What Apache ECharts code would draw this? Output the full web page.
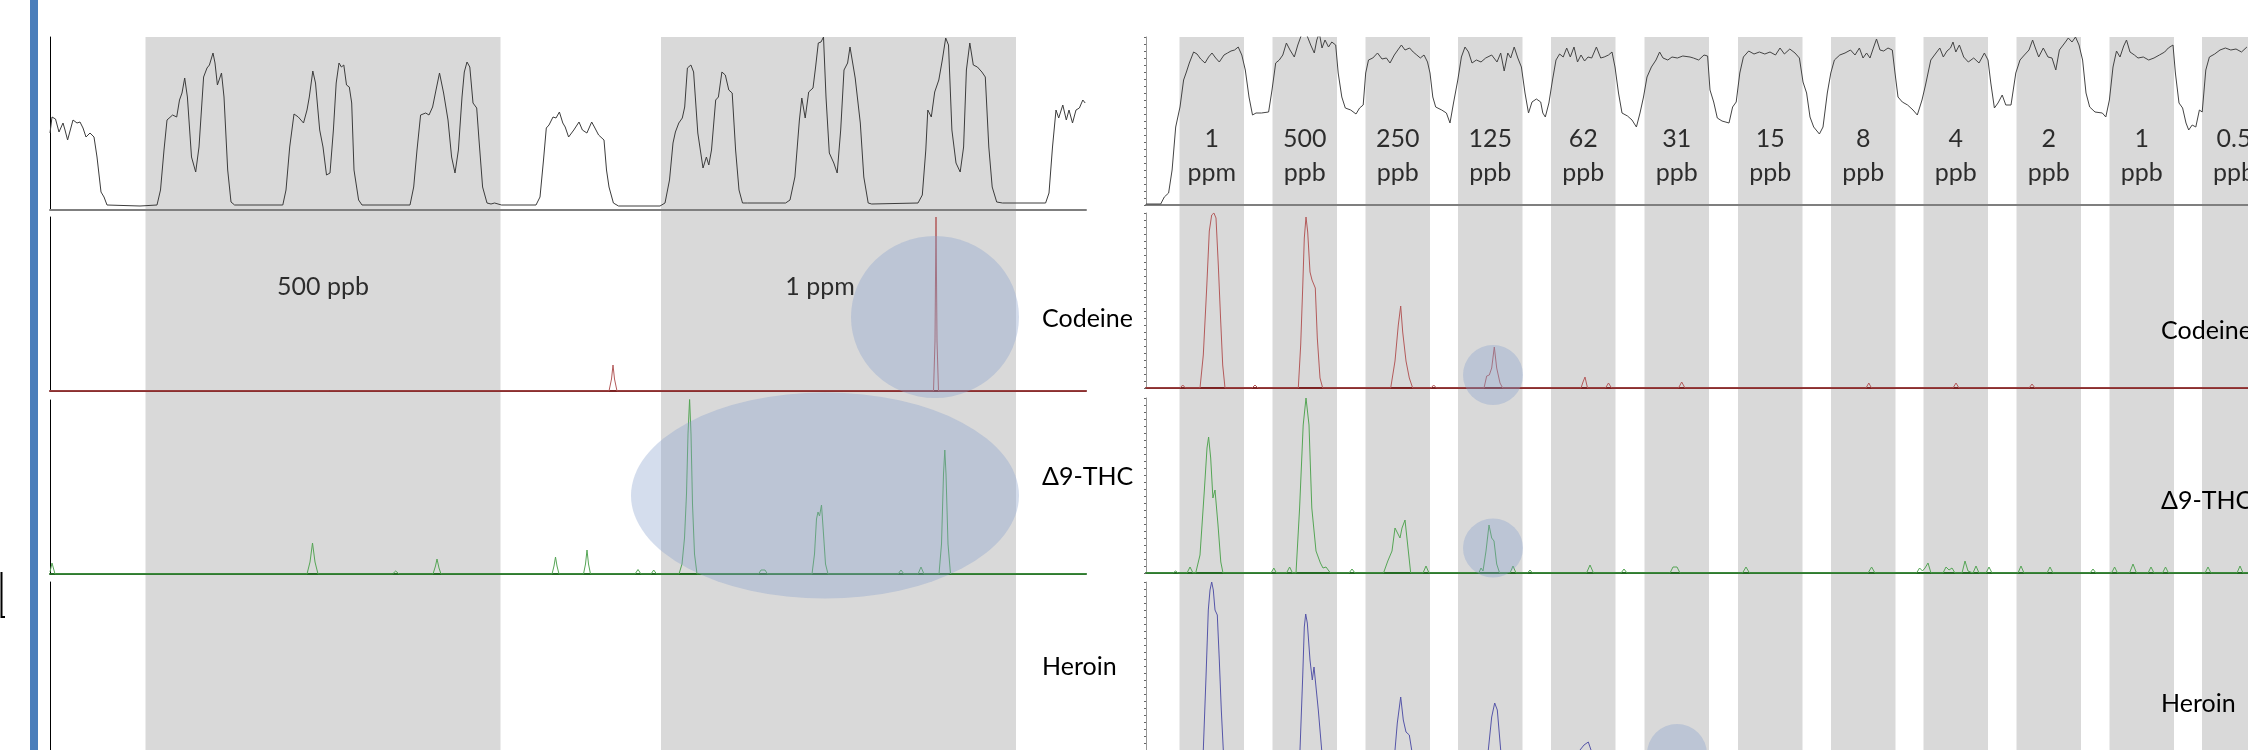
<!DOCTYPE html>
<html>
<head>
<meta charset="utf-8">
<script src="https://cdn.jsdelivr.net/npm/echarts@6/dist/echarts.min.js"></script>
<style>
html,body{margin:0;padding:0;background:#fff;overflow:hidden;}
#wrap{width:2248px;height:750px;overflow:hidden;position:relative;}
#chart{width:2248px;height:790px;}
</style>
</head>
<body>
<div id="wrap"><div id="chart"></div></div>
<script>
// ---------- DATA (x = scan index, y = intensity) ----------
const leftBands = [[145.5,500.5],[661,1016]];
const rightBands = [[1179.5,1244],[1272.5,1337],[1365.5,1430],[1458,1522.5],[1551,1615.5],[1644.5,1709],[1738,1802.5],[1831,1895.5],[1923.5,1988],[2016.5,2081],[2109.5,2174],[2202,2266]];
const leftBandLabels = ['500 ppb','1 ppm'];
const rightBandLabels = ['1\nppm','500\nppb','250\nppb','125\nppb','62\nppb','31\nppb','15\nppb','8\nppb','4\nppb','2\nppb','1\nppb','0.5\nppb'];
const compounds = ['Codeine','Δ9-THC','Heroin'];

const leftTic = [[50,77],[52,93],[55.5,91],[59,78],[63,87],[65,80],[67.6,70],[73,90],[77,87],[80,88],[83,82],[86,73],[90,77],[94,73],[97,53],[101,18],[104,13],[107,5],[140,4],[157,5],[160.5,20],[164,60],[167,90],[172.6,95],[176.7,93],[179.5,110],[182,117],[184.7,132],[187.4,113],[191.5,53],[195.7,38],[199,63],[203.6,133],[207,142],[209.4,145],[213,157],[215,147],[217.4,125],[219,127],[221.5,137],[224,113],[227.7,40],[231,8],[234.6,5],[282.8,5],[286,20],[289.7,63],[294,96],[298.3,93],[303.5,87],[307,100],[309.3,113],[312.8,139],[315.5,127],[319.7,80],[323,63],[326.5,35],[330,37],[333.4,80],[336.2,127],[339,147],[341.4,143],[343.8,145],[346.5,125],[349.3,123],[351.7,107],[354,40],[358.6,10],[362,5],[410,5],[413.7,23],[417,60],[420.6,95],[425.7,97],[429,95],[432.6,103],[436,120],[439.5,137],[443.6,117],[448,90],[451.6,53],[455,37],[458.4,60],[462,113],[464.3,138],[467,148],[469.8,143],[473,107],[476.7,102],[479,70],[482.6,23],[487,7],[491,6],[494.6,7],[501.5,5],[536,5],[540,13],[543.5,50],[546.3,82],[549,85],[553,93],[556,92],[559.4,98],[562.8,87],[565.2,83],[568.6,73],[573.8,80],[579,88],[582.4,80],[586.9,77],[591.7,88],[594.4,83],[598.6,75],[604,70],[606.5,40],[609,23],[613.4,7],[618.5,4],[660,4],[665,7],[669.5,30],[673,67],[675.4,78],[678.8,87],[682.3,92],[684.7,103],[687.4,142],[690.9,145],[693.6,138],[697.8,77],[703,42],[706.4,53],[708.8,45],[711.5,60],[715.7,110],[718.4,113],[721.9,138],[725.3,135],[728.8,120],[732.2,117],[735.6,60],[739,20],[742.5,7],[747.7,7],[785.6,7],[790,10],[794.9,33],[799.4,90],[801.8,112],[805.2,92],[808.7,118],[813,122],[815.6,143],[818.3,167],[821,168],[823.5,173],[826,113],[829.3,57],[833.8,47],[837.2,37],[840.7,80],[844,140],[847.6,147],[850,163],[852.7,147],[855.2,132],[856.9,133],[860.3,87],[863.8,33],[868.2,7],[871.7,6],[918,7],[922.3,15],[925.8,60],[927.8,100],[931.3,93],[934.7,118],[938.8,130],[942.3,150],[945.7,172],[948.5,165],[951.9,80],[956,47],[960.2,38],[963.6,63],[966.4,140],[969.8,167],[973.3,145],[977.4,143],[981.9,138],[985.3,133],[988.8,63],[992.2,23],[996.7,8],[1002.5,7],[1045.6,7],[1049,17],[1052.5,63],[1056,100],[1058.7,92],[1062.8,105],[1066.3,90],[1069,100],[1072.5,87],[1076,100],[1079.4,102],[1082.8,110],[1085.2,107]];

const leftCodeine = [[50,0],[609,0],[611.5,12],[613,26],[614.5,12],[617,0],[933.5,0],[935,50],[936,174],[937,50],[938.5,0],[1086,0]];

const leftThc = [[50,2],[52,11],[55,0],[307,0],[310,12],[312.5,31],[315,12],[318,0],[392.5,0],[395.7,3],[399,0],[433,0],[435.5,8],[437,15],[439,6],[441,0],[552,0],[554,8],[555.5,17],[557,8],[559,0],[583.5,0],[585.5,10],[587,24],[588.5,10],[590.5,0],[635,0],[638,4.5],[641,0],[651,0],[653.7,4],[656.5,0],[679,0],[682,10],[684.5,36],[686.5,80],[688,140],[689.6,175],[691,140],[692.5,70],[694.5,20],[697,0],[758.5,0],[761,4],[763,2.5],[765,4],[767.5,0],[812,0],[814.5,20],[816.5,55],[818,62],[819.5,58],[821.5,69],[823.5,40],[825.5,10],[828,0],[898,0],[901,4],[904,0],[918,0],[921,7],[924,0],[939,0],[941.5,30],[943.5,100],[944.8,124],[946,100],[948,30],[950.5,0],[1086,0]];

const leftHeroin = [[50,0],[1086,0]];

const rightTic = [[1146,1],[1160.7,1],[1164.3,8],[1168.6,12],[1172.1,35],[1175.7,78],[1180,98],[1183.6,125],[1186.4,133],[1189.3,142],[1193.6,153],[1197,151],[1200.7,146],[1205,142],[1208.6,148],[1212,152],[1215.7,147],[1219.3,143],[1224,150],[1227.5,152],[1231,154],[1234.6,155],[1238.2,158],[1241.8,150],[1245.3,135],[1249,108],[1252.5,90],[1256,92],[1261.4,92],[1268.6,93],[1272,115],[1275.7,142],[1279.3,145],[1282.8,150],[1286.4,162],[1290,155],[1294.3,148],[1297.8,160],[1301.4,170],[1306,172],[1310.7,160],[1314.3,152],[1316.8,165],[1319.3,172],[1322,157],[1325,165],[1328.5,158],[1331.8,163],[1335.7,160],[1338.2,132],[1341.8,108],[1345.3,97],[1350.7,95],[1356,91],[1359.6,97],[1363.2,100],[1365.7,132],[1368.5,145],[1372.8,147],[1377.5,152],[1382,146],[1386.4,147],[1390,142],[1394.3,150],[1397.8,155],[1401.4,160],[1405,155],[1409.6,157],[1413.2,153],[1416.8,150],[1420.3,147],[1424,150],[1427.5,143],[1430,132],[1432.8,108],[1435.7,98],[1441.7,95],[1446.4,92],[1450,82],[1453.5,102],[1457.8,125],[1461.4,148],[1465,158],[1468.5,153],[1472,142],[1476.4,145],[1481,143],[1485.7,147],[1491.7,150],[1497,143],[1500.7,152],[1504.2,134],[1507.8,152],[1510.7,147],[1514.2,158],[1517.8,147],[1521.4,138],[1525,112],[1528.5,92],[1532,103],[1536.4,106],[1540.7,103],[1542.8,92],[1545.3,88],[1548.9,102],[1552.5,125],[1556,145],[1559.6,151],[1563.2,148],[1566.7,157],[1570.3,148],[1574,158],[1577.5,143],[1581,150],[1584.6,144],[1588,148],[1591.7,147],[1596.4,158],[1600.7,147],[1604.2,148],[1608.5,150],[1612,153],[1615,138],[1618.5,112],[1622,92],[1627.5,89],[1632,85],[1636.4,78],[1640,92],[1643.5,108],[1647,128],[1651.4,138],[1656,145],[1659.6,153],[1663,147],[1667.8,145],[1672,148],[1677.4,147],[1682.8,149],[1690,148],[1693.4,147],[1698.7,145],[1704,150],[1707.6,149],[1710,115],[1713.7,103],[1717.3,87],[1722,84],[1729,82],[1732.6,98],[1736.2,103],[1739.8,132],[1743.4,148],[1748.7,154],[1754,151],[1759.4,153],[1764.8,151],[1770,153],[1775.5,150],[1780,157],[1784.4,151],[1789.8,156],[1795,152],[1799.4,147],[1803,123],[1806.6,112],[1810,88],[1813.7,78],[1819.4,71],[1823,78],[1827.3,112],[1830.8,132],[1834.4,145],[1839.8,150],[1845,152],[1850.5,155],[1855,150],[1859.4,157],[1863,147],[1866.6,152],[1870,147],[1873.7,158],[1876.5,166],[1880,155],[1883.7,154],[1888,157],[1892.3,155],[1895,132],[1898,108],[1902.3,103],[1907.6,100],[1913,95],[1917.3,90],[1922,105],[1925.5,120],[1930.8,145],[1936,152],[1939.8,157],[1943.3,148],[1947,154],[1950.5,157],[1953,163],[1955.8,153],[1959.4,160],[1963.7,148],[1968.3,143],[1973.7,147],[1979,142],[1984.4,152],[1988,145],[1990.8,122],[1994.4,97],[1998,102],[2002.2,110],[2005.8,100],[2011,100],[2015.8,132],[2020,145],[2024.4,150],[2029,155],[2032.6,165],[2035,158],[2038.7,148],[2043.3,157],[2048,148],[2052,147],[2055.8,135],[2059.4,155],[2064.7,162],[2068.3,167],[2072,163],[2075.5,168],[2079,160],[2082.6,145],[2086,112],[2089.7,98],[2095,93],[2102.3,92],[2105.8,88],[2109.4,105],[2113,138],[2116.5,154],[2120,148],[2123.7,159],[2126.5,165],[2130,153],[2134.4,150],[2138,147],[2143.3,148],[2148.7,145],[2154,147],[2159.4,150],[2164.7,153],[2168.3,157],[2173,160],[2175.4,132],[2179,102],[2182.6,97],[2186,82],[2188.7,75],[2192.2,80],[2195.8,78],[2199.4,95],[2202.2,93],[2205.8,135],[2209.4,148],[2214.7,151],[2220,155],[2225.4,157],[2230.8,155],[2236,156],[2241.5,153],[2246.9,158]];

const rightCodeine = [[1146,0],[1180,0],[1182.8,3],[1185.5,0],[1200,0],[1203.3,33],[1206.7,100],[1209.3,157],[1211.7,173],[1213.9,175],[1216,170],[1218.3,123],[1220.7,67],[1222.7,23],[1225,0],[1252,0],[1255,3],[1258,0],[1298.3,0],[1300.7,43],[1302.7,100],[1304.3,150],[1306,171],[1307.7,156],[1310,116],[1312,108],[1313.3,110],[1315.3,100],[1317.3,50],[1320,10],[1322.7,0],[1390.7,0],[1395,27],[1398.3,63],[1400.7,82],[1402.7,56],[1406,27],[1409.3,10],[1412.7,0],[1431,0],[1433.7,3],[1436.5,0],[1484,0],[1486.7,12],[1489.3,13],[1491.7,20],[1494.3,41],[1496.7,20],[1500,5],[1502.7,0],[1581,0],[1583,6],[1585,11],[1587.5,0],[1605.5,0],[1608.5,5],[1611.5,0],[1678.5,0],[1681.7,6],[1685,0],[1866,0],[1868.8,5],[1871.5,0],[1953,0],[1956,5],[1959,0],[2029,0],[2032,4],[2035,0],[2248,0]];

const rightThc = [[1146,0],[1173,0],[1175.6,2],[1178,0],[1187,0],[1190,6],[1193,0],[1195.7,0],[1200,18],[1204.3,82],[1207,125],[1208.6,136],[1210.7,115],[1212.9,75],[1215,83],[1218,48],[1220.8,11],[1223,0],[1271,0],[1273.8,5],[1276.5,0],[1286.5,0],[1289.6,6],[1292.5,0],[1296,0],[1299.6,65],[1303.2,148],[1306,175],[1309,148],[1311.8,65],[1316,22],[1320.4,10],[1323,5],[1326,6],[1330.4,0],[1349,0],[1352,4],[1355,0],[1383.5,0],[1387.8,12],[1392,22],[1395,45],[1397,47],[1400,35],[1402,45],[1405,53],[1408,25],[1410.7,0],[1423,0],[1426,7],[1429,0],[1478.8,0],[1481,5],[1483,2],[1486,22],[1489,48],[1491.7,35],[1494,32],[1496.7,9],[1499.6,0],[1510,0],[1513,7],[1516,0],[1527.5,0],[1530,3],[1532.5,0],[1586.5,0],[1590,8],[1593.5,0],[1621,0],[1624,4],[1627,0],[1670,0],[1673,6],[1677,6],[1680,0],[1742.5,0],[1746,6],[1749.5,0],[1868,0],[1871.6,6],[1875,0],[1916.5,0],[1919.6,5],[1922.5,2],[1925,5],[1928,10],[1931,0],[1943,0],[1946,6],[1949,3],[1952,5],[1955,0],[1962,0],[1965,12],[1968,2],[1970,0],[1973,0],[1976,7],[1979,0],[1986,0],[1989,6],[1992,0],[2018,0],[2021,7],[2024,0],[2047,0],[2050,6],[2053,0],[2090,0],[2093,4],[2096,0],[2111.5,0],[2114.6,6],[2117.5,0],[2129.5,0],[2133,9],[2136.5,0],[2148,0],[2151,6],[2154,0],[2162.5,0],[2165.5,6],[2168.5,0],[2205,0],[2208,6],[2211,0],[2237,0],[2240,7],[2243,0],[2248,0]];

const rightHeroin = [[1146,0],[1201,0],[1203.3,7],[1206,80],[1208.3,147],[1210,167],[1211.7,175],[1213.3,167],[1215,147],[1217.3,142],[1219.3,97],[1221.3,47],[1223.3,7],[1225,0],[1298,0],[1300,7],[1302.7,80],[1304.3,130],[1305.7,143],[1307.3,134],[1310,97],[1312.3,77],[1314,90],[1316,89],[1318.3,47],[1321.7,7],[1324,0],[1393,0],[1395,7],[1397.3,34],[1400.7,60],[1403.3,37],[1406,25],[1409.3,22],[1411.7,7],[1414,0],[1486,0],[1488.3,7],[1491.7,40],[1494.7,54],[1497.3,47],[1500.7,7],[1503,0],[1577,0],[1580,7],[1584,12],[1588.3,15],[1591,7],[1594,0],[2248,0]];

// ---------- LAYOUT ----------
const FONT = 'Lato, "Open Sans", sans-serif';
const LX = [50, 1086], RX = [1146, 2248];
const panels = [
  // left
  {x: LX, top: 37,  h: 173, ymax: 173, data: leftTic,     color: '#3c3c3c', base: '#7f7f7f', axis: '#000'},
  {x: LX, top: 217, h: 174, ymax: 174, data: leftCodeine, color: '#b35a5a', base: '#7c2222', axis: '#000'},
  {x: LX, top: 400, h: 174, ymax: 174, data: leftThc,     color: '#55a555', base: '#236b23', axis: '#000'},
  {x: LX, top: 582, h: 175, ymax: 175, data: leftHeroin,  color: '#5555a8', base: '#333388', axis: '#000'},
  // right
  {x: RX, top: 37,  h: 168, ymax: 168, data: rightTic,     color: '#444', base: '#7f7f7f', axis: '#999', ticks: true},
  {x: RX, top: 213, h: 175, ymax: 175, data: rightCodeine, color: '#b35a5a', base: '#7c2222', axis: '#999', ticks: true},
  {x: RX, top: 398, h: 175, ymax: 175, data: rightThc,     color: '#55a555', base: '#236b23', axis: '#999', ticks: true},
  {x: RX, top: 582, h: 175, ymax: 175, data: rightHeroin,  color: '#5555a8', base: '#333388', axis: '#999', ticks: true}
];

const grid = [], xAxis = [], yAxis = [], series = [];
panels.forEach((p, i) => {
  grid.push({left: p.x[0], top: p.top, width: p.x[1] - p.x[0], height: p.h});
  xAxis.push({type: 'value', gridIndex: i, min: p.x[0], max: p.x[1],
    axisLine: {show: true, onZero: false, lineStyle: {color: p.base, width: 2}},
    axisTick: {show: false}, axisLabel: {show: false}, splitLine: {show: false}});
  yAxis.push({type: 'value', gridIndex: i, min: 0, max: p.ymax, interval: p.ticks ? 7 : p.ymax,
    axisLine: {show: true, lineStyle: {color: p.axis, width: 1}},
    axisTick: {show: !!p.ticks, length: 2, lineStyle: {color: '#666'}},
    axisLabel: {show: false}, splitLine: {show: false}});
  series.push({type: 'line', xAxisIndex: i, yAxisIndex: i, data: p.data, showSymbol: false,
    symbol: 'none', lineStyle: {color: p.color, width: 1}, z: 3, silent: true});
});

// background band grids (8 = left, 9 = right)
[[LX, leftBands], [RX, rightBands]].forEach(([xr, bands], k) => {
  const gi = 8 + k;
  grid.push({left: xr[0], top: 37, width: xr[1] - xr[0], height: 753});
  xAxis.push({type: 'value', gridIndex: gi, min: xr[0], max: xr[1], show: false});
  yAxis.push({type: 'value', gridIndex: gi, min: 0, max: 1, show: false});
  series.push({type: 'custom', xAxisIndex: gi, yAxisIndex: gi, data: bands, z: -5, silent: true,
    renderItem: (params, api) => {
      const a = api.coord([api.value(0), 1]);
      const b = api.coord([api.value(1), 0]);
      return {type: 'rect', shape: {x: a[0], y: a[1], width: b[0] - a[0], height: b[1] - a[1]},
        style: {fill: '#d9d9d9'}};
    }});
});

// concentration labels
const txt = {show: true, position: 'inside', color: '#000', fontFamily: FONT, fontSize: 25, lineHeight: 34};
series.push({type: 'scatter', xAxisIndex: 4, yAxisIndex: 4, symbolSize: 0, silent: true, z: 6,
  data: rightBands.map((b, i) => ({name: rightBandLabels[i], value: [(b[0] + b[1]) / 2, 49.5]})),
  label: Object.assign({formatter: '{b}'}, txt)});
series.push({type: 'scatter', xAxisIndex: 1, yAxisIndex: 1, symbolSize: 0, silent: true, z: 6,
  data: [{name: leftBandLabels[0], value: [323, 104]}, {name: leftBandLabels[1], value: [820, 104]}],
  label: Object.assign({formatter: '{b}'}, txt)});

// highlight ellipses
const hl = 'rgba(136,162,205,0.45)';
function ell(gi, pts) {
  series.push({type: 'scatter', xAxisIndex: gi, yAxisIndex: gi, silent: true, z: 8,
    itemStyle: {color: hl}, data: pts.map(p => ({value: p.v, symbolSize: p.s}))});
}
ell(1, [{v: [935, 74], s: [168, 162]}]);
ell(2, [{v: [825, 78.5], s: [388, 206]}]);
ell(5, [{v: [1493, 13], s: [60, 60]}]);
ell(6, [{v: [1493, 25], s: [60, 59]}]);
ell(7, [{v: [1677, 3], s: [60, 60]}]);

// compound names
const nameStyle = (t) => ({fill: '#000', text: t, font: '25px ' + FONT, textVerticalAlign: 'middle'});
const graphic = [
  {type: 'rect', shape: {x: 30, y: 0, width: 8, height: 790}, style: {fill: '#4a7ebb'}, z: 10},
  {type: 'polyline', shape: {points: [[1.5, 572], [1.5, 617], [5, 617]]}, style: {stroke: '#000', lineWidth: 2, fill: null}, z: 10},
  {type: 'text', left: 1042, top: 306, style: nameStyle(compounds[0]), z: 10},
  {type: 'text', left: 1042, top: 464, style: nameStyle(compounds[1]), z: 10},
  {type: 'text', left: 1042, top: 654, style: nameStyle(compounds[2]), z: 10},
  {type: 'text', left: 2161, top: 318, style: nameStyle(compounds[0]), z: 10},
  {type: 'text', left: 2161, top: 488, style: nameStyle(compounds[1]), z: 10},
  {type: 'text', left: 2161, top: 691, style: nameStyle(compounds[2]), z: 10}
];

const chart = echarts.init(document.getElementById('chart'), null, {renderer: 'canvas'});
chart.setOption({animation: false, backgroundColor: '#fff', grid, xAxis, yAxis, series, graphic});
</script>
</body>
</html>
